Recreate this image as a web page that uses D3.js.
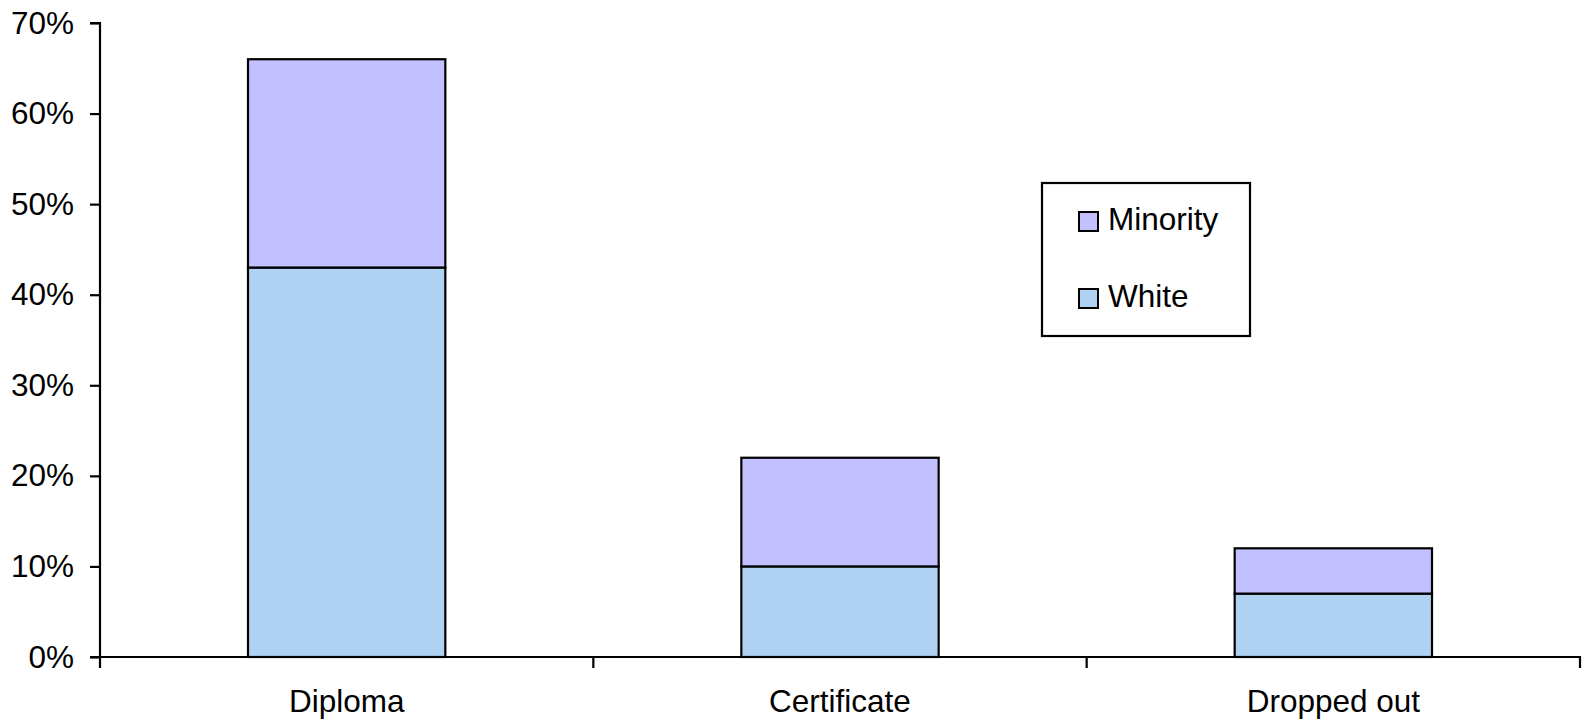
<!DOCTYPE html>
<html>
<head>
<meta charset="utf-8">
<script src="https://cdn.jsdelivr.net/npm/d3@7"></script>
<style>
  html, body { margin: 0; padding: 0; background: #fff; }
  svg { display: block; }
  text { font-family: "Liberation Sans", Arial, sans-serif; fill: #000; }
</style>
</head>
<body>
<svg id="chart" width="1585" height="724"></svg>
<script>
// Outcome categories and stacked shares (fractions of total)
const categories = ["Diploma", "Certificate", "Dropped out"];
const whiteValues = [0.43, 0.10, 0.07];
const minorityValues = [0.23, 0.12, 0.05];
const seriesNames = ["White", "Minority"];
const seriesColors = ["#B0D2F2", "#C2C0FF"];
const yTicks = [0, 0.1, 0.2, 0.3, 0.4, 0.5, 0.6, 0.7];

const svg = d3.select("#chart");
const plot = { left: 100, right: 1580, top: 23, bottom: 657 };
const fontSize = "31.5px";

const rows = categories.map((c, i) => ({ category: c, White: whiteValues[i], Minority: minorityValues[i] }));
const stacked = d3.stack().keys(seriesNames)(rows);

const x = d3.scaleBand().domain(categories).range([plot.left, plot.right]).padding(0);
const y = d3.scaleLinear().domain([0, 0.7]).range([plot.bottom, plot.top]);
const color = d3.scaleOrdinal().domain(seriesNames).range(seriesColors);
const barFrac = 0.4;
const barW = x.bandwidth() * barFrac;

// Stacked bars
svg.append("g").selectAll("g")
  .data(stacked)
  .join("g")
  .attr("fill", d => color(d.key))
  .selectAll("rect")
  .data(d => d)
  .join("rect")
  .attr("x", d => x(d.data.category) + (x.bandwidth() - barW) / 2)
  .attr("y", d => y(d[1]))
  .attr("width", barW)
  .attr("height", d => y(d[0]) - y(d[1]))
  .attr("stroke", "#000")
  .attr("stroke-width", 2.2);

// Y axis
const yAxis = d3.axisLeft(y).tickValues(yTicks).tickFormat(d3.format(".0%")).tickSize(10).tickPadding(16);
const gy = svg.append("g").attr("transform", `translate(${plot.left},0)`).call(yAxis);
gy.select(".domain").attr("stroke", "#000").attr("stroke-width", 2.2).attr("d", `M-10,${plot.top}H0V${plot.bottom}H-10`);
gy.selectAll(".tick line").attr("stroke", "#000").attr("stroke-width", 2.2);
gy.selectAll(".tick text").style("font-size", fontSize).attr("font-family", null);

// X axis: line with tick marks at category boundaries
const gx = svg.append("g").attr("transform", `translate(0,${plot.bottom})`);
gx.append("line")
  .attr("x1", plot.left).attr("x2", plot.right)
  .attr("stroke", "#000").attr("stroke-width", 2.2);
const boundaries = categories.map(c => x(c)).concat([x(categories[categories.length - 1]) + x.bandwidth()]);
gx.selectAll("line.tick")
  .data(boundaries)
  .join("line")
  .attr("class", "tick")
  .attr("x1", d => d).attr("x2", d => d)
  .attr("y1", -1).attr("y2", 11)
  .attr("stroke", "#000").attr("stroke-width", 2.2);
gx.selectAll("text")
  .data(categories)
  .join("text")
  .attr("x", d => x(d) + x.bandwidth() / 2)
  .attr("y", 55)
  .attr("text-anchor", "middle")
  .style("font-size", fontSize)
  .text(d => d);

// Legend
const legend = svg.append("g").attr("transform", "translate(1042,183)");
legend.append("rect")
  .attr("width", 208).attr("height", 153)
  .attr("fill", "#fff").attr("stroke", "#000").attr("stroke-width", 2.2);
const legendOrder = ["Minority", "White"];
const items = legend.selectAll("g.item")
  .data(legendOrder)
  .join("g")
  .attr("class", "item")
  .attr("transform", (d, i) => `translate(37,${29 + i * 77})`);
items.append("rect")
  .attr("width", 19).attr("height", 19)
  .attr("fill", d => color(d))
  .attr("stroke", "#000").attr("stroke-width", 2);
items.append("text")
  .attr("x", 29).attr("y", 18)
  .style("font-size", fontSize)
  .text(d => d);
</script>
</body>
</html>
